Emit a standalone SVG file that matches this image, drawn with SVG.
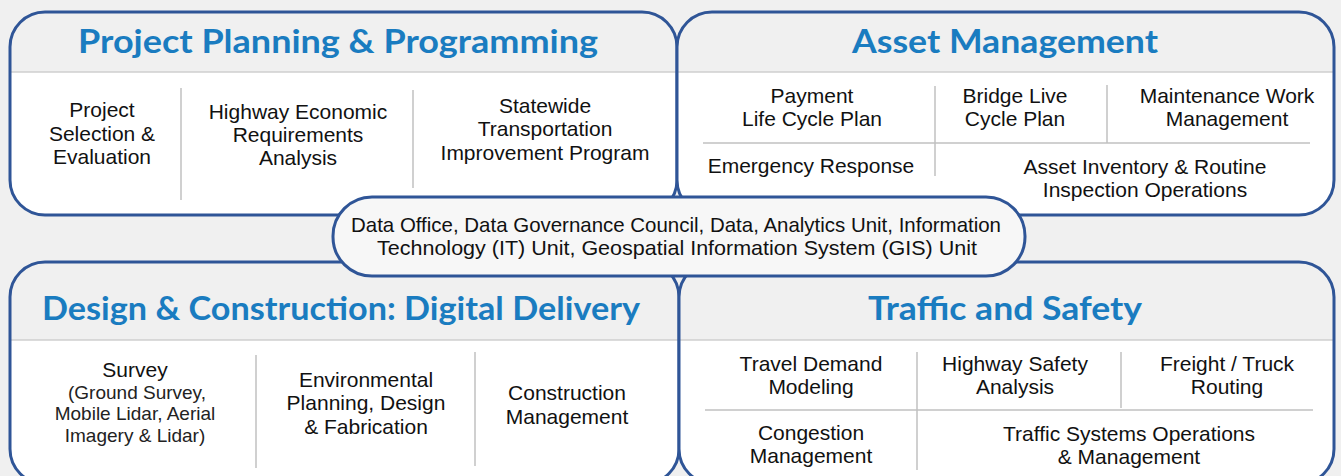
<svg xmlns="http://www.w3.org/2000/svg" width="1341" height="476" viewBox="0 0 1341 476">
<defs>
<style>
.bg{fill:#f0f0f0}
.body{fill:#ffffff}
.hdr{fill:#f0f0f0}
.frame{fill:none;stroke:#2f5597;stroke-width:3}
.div{stroke:#cfcfcf;stroke-width:1.5}
.sep{stroke:#c0c0c0;stroke-width:1.5}
.title{font-family:Lato,"Open Sans","Liberation Sans",sans-serif;font-weight:bold;font-size:33px;fill:#1a7cc0;text-anchor:middle}
.t{font-family:"Liberation Sans",Arial,sans-serif;font-size:21px;fill:#111111;text-anchor:middle}
.s{font-family:"Liberation Sans",Arial,sans-serif;font-size:19px;fill:#222222;text-anchor:middle}
.pill{fill:#f7f7f7;stroke:#2f5597;stroke-width:3}
</style>
</defs>
<rect class="bg" x="0" y="0" width="1341" height="476"/>

<g id="project-planning">
<rect class="body" x="10" y="12" width="667" height="203" rx="35"/>
<path class="hdr" d="M10,72 V47 A35,35 0 0 1 45,12 H642 A35,35 0 0 1 677,47 V72 Z"/>
<line class="div" x1="10" y1="72" x2="677" y2="72"/>
<rect class="frame" x="10" y="12" width="667" height="203" rx="35"/>
<text class="title" x="338" y="53" textLength="520" lengthAdjust="spacingAndGlyphs">Project Planning &amp; Programming</text>
<line class="sep" x1="181" y1="88" x2="181" y2="200"/>
<line class="sep" x1="413" y1="90" x2="413" y2="188"/>
<text class="t"><tspan x="102" y="117">Project</tspan><tspan x="102" y="141">Selection &amp;</tspan><tspan x="102" y="164">Evaluation</tspan></text>
<text class="t"><tspan x="298" y="119">Highway Economic</tspan><tspan x="298" y="142">Requirements</tspan><tspan x="298" y="165">Analysis</tspan></text>
<text class="t"><tspan x="545" y="113">Statewide</tspan><tspan x="545" y="136">Transportation</tspan><tspan x="545" y="160">Improvement Program</tspan></text>
</g>

<g id="asset-management">
<rect class="body" x="677" y="12" width="657" height="203" rx="35"/>
<path class="hdr" d="M677,72 V47 A35,35 0 0 1 712,12 H1299 A35,35 0 0 1 1334,47 V72 Z"/>
<line class="div" x1="677" y1="72" x2="1334" y2="72"/>
<rect class="frame" x="677" y="12" width="657" height="203" rx="35"/>
<text class="title" x="1005" y="53" textLength="306" lengthAdjust="spacingAndGlyphs">Asset Management</text>
<line class="sep" x1="935" y1="86" x2="935" y2="176"/>
<line class="sep" x1="1107" y1="85" x2="1107" y2="143"/>
<line class="sep" x1="703" y1="143" x2="1310" y2="143"/>
<text class="t"><tspan x="812" y="103">Payment</tspan><tspan x="812" y="126">Life Cycle Plan</tspan></text>
<text class="t"><tspan x="1015" y="103">Bridge Live</tspan><tspan x="1015" y="126">Cycle Plan</tspan></text>
<text class="t"><tspan x="1227" y="103">Maintenance Work</tspan><tspan x="1227" y="126">Management</tspan></text>
<text class="t" x="811" y="173">Emergency Response</text>
<text class="t"><tspan x="1145" y="174">Asset Inventory &amp; Routine</tspan><tspan x="1145" y="197">Inspection Operations</tspan></text>
</g>

<g id="design-construction">
<rect class="body" x="10" y="262" width="669" height="222" rx="35"/>
<path class="hdr" d="M10,340 V297 A35,35 0 0 1 45,262 H644 A35,35 0 0 1 679,297 V340 Z"/>
<line class="div" x1="10" y1="340" x2="679" y2="340"/>
<rect class="frame" x="10" y="262" width="669" height="222" rx="35"/>
<text class="title" x="341" y="320" textLength="598" lengthAdjust="spacingAndGlyphs">Design &amp; Construction: Digital Delivery</text>
<line class="sep" x1="256" y1="355" x2="256" y2="468"/>
<line class="sep" x1="475" y1="352" x2="475" y2="466"/>
<text class="t" x="135" y="377">Survey</text>
<text class="s"><tspan x="137" y="399">(Ground Survey,</tspan><tspan x="135" y="420">Mobile Lidar, Aerial</tspan><tspan x="135" y="442">Imagery &amp; Lidar)</tspan></text>
<text class="t"><tspan x="366" y="387">Environmental</tspan><tspan x="366" y="410">Planning, Design</tspan><tspan x="366" y="434">&amp; Fabrication</tspan></text>
<text class="t"><tspan x="567" y="400">Construction</tspan><tspan x="567" y="424">Management</tspan></text>
</g>

<g id="traffic-safety">
<rect class="body" x="679" y="262" width="655" height="222" rx="35"/>
<path class="hdr" d="M679,340 V297 A35,35 0 0 1 714,262 H1299 A35,35 0 0 1 1334,297 V340 Z"/>
<line class="div" x1="679" y1="340" x2="1334" y2="340"/>
<rect class="frame" x="679" y="262" width="655" height="222" rx="35"/>
<text class="title" x="1005" y="320" textLength="274" lengthAdjust="spacingAndGlyphs">Traffic and Safety</text>
<line class="sep" x1="917" y1="352" x2="917" y2="470"/>
<line class="sep" x1="1121" y1="352" x2="1121" y2="408"/>
<line class="sep" x1="705" y1="410" x2="1313" y2="410"/>
<text class="t"><tspan x="811" y="371">Travel Demand</tspan><tspan x="811" y="394">Modeling</tspan></text>
<text class="t"><tspan x="1015" y="371">Highway Safety</tspan><tspan x="1015" y="394">Analysis</tspan></text>
<text class="t"><tspan x="1227" y="371">Freight / Truck</tspan><tspan x="1227" y="394">Routing</tspan></text>
<text class="t"><tspan x="811" y="440">Congestion</tspan><tspan x="811" y="463">Management</tspan></text>
<text class="t"><tspan x="1129" y="441">Traffic Systems Operations</tspan><tspan x="1129" y="464">&amp; Management</tspan></text>
</g>

<g id="data-office">
<rect class="pill" x="333" y="197" width="692" height="79" rx="39"/>
<text class="t" x="676" y="232" textLength="650" lengthAdjust="spacingAndGlyphs">Data Office, Data Governance Council, Data, Analytics Unit, Information</text>
<text class="t" x="677" y="255" textLength="600" lengthAdjust="spacingAndGlyphs">Technology (IT) Unit, Geospatial Information System (GIS) Unit</text>
</g>

<g id="connectors"></g>
</svg>
